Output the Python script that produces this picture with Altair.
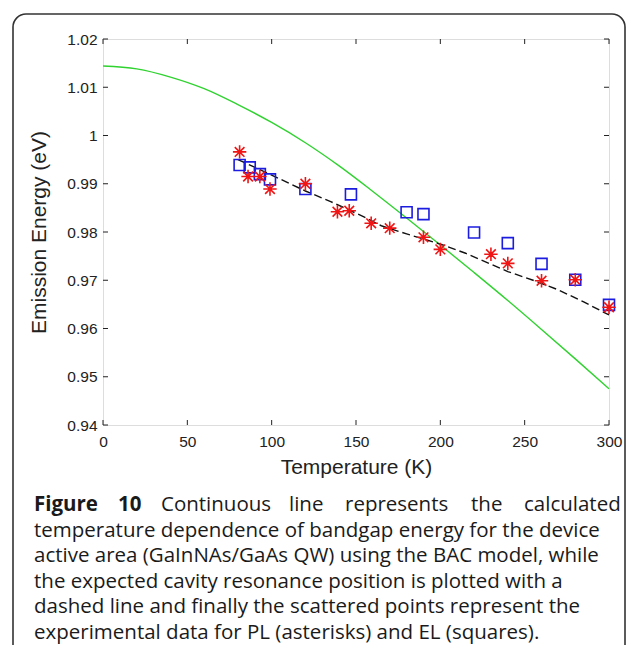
import altair as alt
import pandas as pd

# ---------------- data ----------------
bac_T = [0, 20, 40, 60, 80, 100, 120, 140, 160, 180, 200, 220, 240, 260, 280, 300]
bac_E = [1.0144, 1.0138, 1.0121, 1.0097, 1.0064, 1.0027, 0.9985, 0.9937, 0.9884,
         0.9829, 0.9773, 0.9716, 0.9658, 0.9598, 0.9537, 0.9475]

cav_T = [80, 100, 120, 135, 155, 165, 180, 200, 215, 240, 255, 270, 285, 300]
cav_E = [0.9950, 0.9918, 0.9885, 0.9863, 0.9831, 0.9813, 0.9796, 0.9775, 0.9756,
         0.9718, 0.9700, 0.9680, 0.9655, 0.9628]

pl_T = [81, 86, 93, 99, 120, 139, 146, 159, 170, 190, 200, 230, 240, 260, 280, 300]
pl_E = [0.9966, 0.9915, 0.9915, 0.9889, 0.9900, 0.9842, 0.9844, 0.9818, 0.9808,
        0.9789, 0.9764, 0.9754, 0.9735, 0.9699, 0.9701, 0.9644]

el_T = [81, 87, 93, 99, 120, 147, 180, 190, 220, 240, 260, 280, 300]
el_E = [0.9939, 0.9934, 0.9920, 0.9909, 0.9889, 0.9878, 0.9841, 0.9837, 0.9799,
        0.9777, 0.9734, 0.9701, 0.9649]

x_ticks = [0, 50, 100, 150, 200, 250, 300]
y_ticks = [0.94, 0.95, 0.96, 0.97, 0.98, 0.99, 1.0, 1.01, 1.02]

x_title = "Temperature (K)"
y_title = "Emission Energy (eV)"

caption_first = ["Figure", "10", "Continuous", "line", "represents", "the", "calculated"]
caption_lines = [
    "temperature dependence of bandgap energy for the device",
    "active area (GaInNAs/GaAs QW) using the BAC model, while",
    "the expected cavity resonance position is plotted with a",
    "dashed line and finally the scattered points represent the",
    "experimental data for PL (asterisks) and EL (squares).",
]

# ---------------- layout ----------------
W, H = 506, 386
PAD_L, PAD_T = 95, 31
TOTAL_W, TOTAL_H = 618, 637
TICK = 5
AXFONT = "Liberation Sans"
CAPFONT = "Open Sans"

xs = alt.Scale(domain=[0, 300], nice=False, zero=False)
ys = alt.Scale(domain=[0.94, 1.02], nice=False, zero=False)

x_axis = alt.Axis(values=x_ticks, ticks=False, domain=False, grid=False,
                  labelFont=AXFONT, labelFontSize=15.5, labelColor="#222",
                  labelPadding=9, labelFlush=False, labelOverlap=False,
                  title=x_title, titleFont=AXFONT, titleFontSize=21,
                  titleFontWeight="normal", titleColor="#222", titlePadding=7)
y_axis = alt.Axis(values=y_ticks, ticks=False, domain=False, grid=False,
                  format="~g",
                  labelFont=AXFONT, labelFontSize=15.5, labelColor="#222",
                  labelPadding=6, labelFlush=False, labelOverlap=False,
                  title=y_title, titleFont=AXFONT, titleFontSize=21,
                  titleFontWeight="normal", titleColor="#222", titlePadding=17)

bac = pd.DataFrame({"T": bac_T, "E": bac_E})
cav = pd.DataFrame({"T": cav_T, "E": cav_E})
pl = pd.DataFrame({"T": pl_T, "E": pl_E})
el = pd.DataFrame({"T": el_T, "E": el_E})
xt = pd.DataFrame({"v": x_ticks})
yt = pd.DataFrame({"v": y_ticks})

one = alt.Data(values=[{"a": 1}])

frame_box = alt.Chart(one).mark_rect(
    filled=False, stroke="#333", strokeWidth=1.6, cornerRadius=13
).encode(
    x=alt.value(13 - 8 - PAD_L), x2=alt.value(TOTAL_W - 1 - PAD_L),
    y=alt.value(14 - 8 - PAD_T), y2=alt.value(TOTAL_H - PAD_T + 30),
)

green = alt.Chart(bac).mark_line(color="#2fd22f", strokeWidth=1.4, interpolate="monotone").encode(
    x=alt.X("T:Q", scale=xs, axis=x_axis),
    y=alt.Y("E:Q", scale=ys, axis=y_axis),
)

dashed = alt.Chart(cav).mark_line(color="#111", strokeWidth=1.4, strokeDash=[8, 4]).encode(
    x=alt.X("T:Q", scale=xs), y=alt.Y("E:Q", scale=ys)
)

squares = alt.Chart(el).mark_point(
    shape="square", filled=False, color="#1c1ce0", strokeWidth=1.6, size=121, opacity=1
).encode(x=alt.X("T:Q", scale=xs), y=alt.Y("E:Q", scale=ys))

ASTER = "M-1,0L1,0M0,-1L0,1M-0.72,-0.72L0.72,0.72M-0.72,0.72L0.72,-0.72"
stars = alt.Chart(pl).mark_point(
    shape=ASTER, filled=False, color="#f01414", strokeWidth=1.6, size=180, opacity=1
).encode(x=alt.X("T:Q", scale=xs), y=alt.Y("E:Q", scale=ys))

tick_style = dict(color="#222", strokeWidth=1)
tb = alt.Chart(xt).mark_rule(**tick_style).encode(
    x=alt.X("v:Q", scale=xs), y=alt.value(H), y2=alt.value(H - TICK))
tt = alt.Chart(xt).mark_rule(**tick_style).encode(
    x=alt.X("v:Q", scale=xs), y=alt.value(0), y2=alt.value(TICK))
tl = alt.Chart(yt).mark_rule(**tick_style).encode(
    y=alt.Y("v:Q", scale=ys), x=alt.value(0), x2=alt.value(TICK))
tr = alt.Chart(yt).mark_rule(**tick_style).encode(
    y=alt.Y("v:Q", scale=ys), x=alt.value(W), x2=alt.value(W - TICK))

# caption
CAP_SIZE = 20.5
ROW0 = 505 - 8 - PAD_T
ROW_STEP = 25.6
first_x = [34, 118, 161, 289, 345, 471, 524]
first_rows = pd.DataFrame({
    "txt": caption_first,
    "px": [p - 8 - PAD_L for p in first_x],
    "py": [ROW0] * len(caption_first),
    "w": ["bold", "bold", "normal", "normal", "normal", "normal", "normal"],
})
cap_bold = alt.Chart(first_rows[first_rows.w == "bold"]).mark_text(
    align="left", baseline="middle", font=CAPFONT, fontSize=CAP_SIZE,
    fontWeight="bold", color="#1a1a1a"
).encode(x=alt.X("px:Q", scale=None), y=alt.Y("py:Q", scale=None), text="txt:N")
cap_norm = alt.Chart(first_rows[first_rows.w == "normal"]).mark_text(
    align="left", baseline="middle", font=CAPFONT, fontSize=CAP_SIZE,
    fontWeight="normal", color="#1a1a1a"
).encode(x=alt.X("px:Q", scale=None), y=alt.Y("py:Q", scale=None), text="txt:N")

rest = pd.DataFrame({
    "txt": caption_lines,
    "px": [34 - 8 - PAD_L] * len(caption_lines),
    "py": [ROW0 + ROW_STEP * (i + 1) for i in range(len(caption_lines))],
})
cap_rest = alt.Chart(rest).mark_text(
    align="left", baseline="middle", font=CAPFONT, fontSize=CAP_SIZE, color="#1a1a1a"
).encode(x=alt.X("px:Q", scale=None), y=alt.Y("py:Q", scale=None), text="txt:N")

chart = alt.layer(
    frame_box, green, dashed, squares, stars, tb, tt, tl, tr, cap_bold, cap_norm, cap_rest
).properties(
    width=W, height=H,
    padding={"left": PAD_L, "top": PAD_T, "right": TOTAL_W - PAD_L - W,
             "bottom": TOTAL_H - PAD_T - H},
    autosize=alt.AutoSizeParams(type="none"),
).configure_view(
    stroke="#222", strokeWidth=1.3
).configure(background="white")

chart.save("out.html", embed_options={"renderer": "svg", "actions": False})
